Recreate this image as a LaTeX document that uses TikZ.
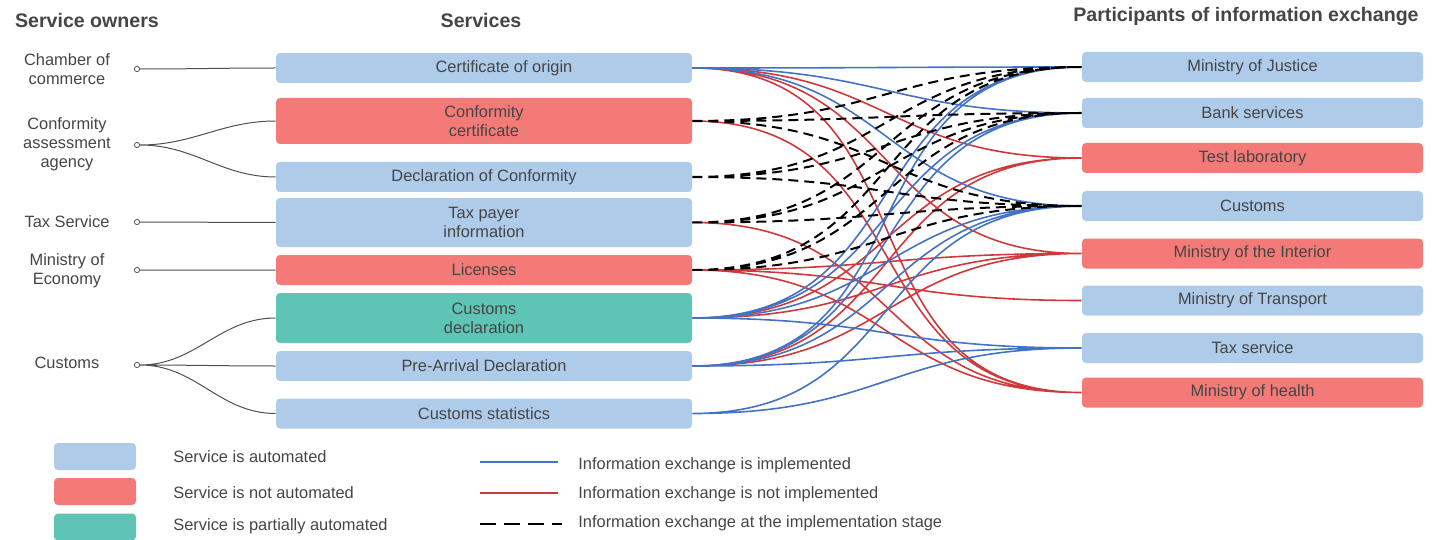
\documentclass[tikz,border=0pt]{standalone}
\usepackage{fontspec}
\setmainfont{Liberation Sans}
\definecolor{autob}{HTML}{AFCBEA}
\definecolor{nautor}{HTML}{F47A78}
\definecolor{pautot}{HTML}{5EC4B6}
\definecolor{implb}{HTML}{4472C4}
\definecolor{nimplr}{HTML}{D0393B}
\definecolor{txtg}{HTML}{454545}
\definecolor{ownerg}{HTML}{505050}

\begin{document}
\begin{tikzpicture}[
  x=0.5pt, y=-0.5pt,
  font=\fontsize{8.2}{9.5}\selectfont,
  svc/.style={fill=autob, rounded corners=2pt, minimum width=208pt,
    minimum height=15pt, align=center, text=txtg, inner sep=0pt},
  part/.style={svc, minimum width=170.5pt},
  nauto/.style={fill=nautor},
  pauto/.style={fill=pautot},
  impl/.style={draw=implb, line width=0.8pt, out=0, in=180, looseness=1.25},
  nimpl/.style={impl, draw=nimplr},
  stage/.style={impl, draw=black, line width=1pt, dash pattern=on 5pt off 3pt},
  owner/.style={draw=ownerg, line width=0.5pt, out=0, in=180},
  dot/.style={circle, draw=ownerg, fill=white, inner sep=0pt, minimum size=2.6pt},
  own/.style={align=center, text=txtg},
  head/.style={text=txtg, font=\fontsize{9.8}{12}\selectfont\bfseries},
  swatch/.style={rounded corners=2pt, minimum width=41pt, minimum height=13.5pt, inner sep=0pt},
  legtext/.style={anchor=west, text=txtg, inner sep=0pt}]
\useasboundingbox (0,0) rectangle (1436,540);

\node[head, anchor=west] (hown) at (8,20) {Service owners};
\node[head] (hsvc) at (481,20) {Services};
\node[head] (hpart) at (1246,16) {Participants of information exchange};

% owners
\node[own] (o1) at (67,69) {Chamber of\\commerce};
\node[own] (o2) at (67,144) {Conformity\\assessment\\agency};
\node[own] (o3) at (67,222) {Tax Service};
\node[own] (o4) at (67,271) {Ministry of\\Economy};
\node[own] (o5) at (67,363) {Customs};
\node[dot] (c1) at (137,69) {};
\node[dot] (c2) at (137,145) {};
\node[dot] (c3) at (137,222) {};
\node[dot] (c4) at (137,270) {};
\node[dot] (c5) at (137,365) {};

% services
\node[svc] (s1) at (484,68) {\hspace*{20pt}Certificate of origin};
\node[svc, nauto, minimum height=23pt] (s2) at (484,121) {Conformity\\certificate};
\node[svc] (s3) at (484,177) {Declaration of Conformity};
\node[svc, minimum height=24.5pt] (s4) at (484,222.5) {Tax payer\\information};
\node[svc, nauto] (s5) at (484,270) {Licenses};
\node[svc, pauto, minimum height=25pt] (s6) at (484,318) {Customs\\declaration};
\node[svc] (s7) at (484,366) {Pre-Arrival Declaration};
\node[svc] (s8) at (484,413.5) {Customs statistics};

% participants
\node[part] (p1) at (1252.5,67) {Ministry of Justice};
\node[part] (p2) at (1252.5,113) {Bank services};
\node[part, nauto] (p3) at (1252.5,158) {Test laboratory};
\node[part] (p4) at (1252.5,206) {Customs};
\node[part, nauto] (p5) at (1252.5,253.5) {Ministry of the Interior};
\node[part] (p6) at (1252.5,300.5) {Ministry of Transport};
\node[part] (p7) at (1252.5,348) {Tax service};
\node[part, nauto] (p8) at (1252.5,392.5) {Ministry of health};

\draw[owner] (c1) to (s1) (c2) to (s2) (c2) to (s3) (c3) to (s4) (c4) to (s5)
  (c5) to (s6) (c5) to (s7) (c5) to (s8);

\draw[nimpl] (s1) to (p3) (s1) to (p5) (s1) to (p8) (s2) to (p8) (s4) to (p8)
  (s5) to (p5) (s5) to (p6) (s5) to (p8) (s6) to (p3) (s6) to (p5)
  (s7) to (p3) (s7) to (p5);
\draw[impl] (s1) to (p1) (s1) to (p2) (s1) to (p4)
  (s6) to (p1) (s6) to (p2) (s6) to (p4) (s6) to (p7)
  (s7) to (p1) (s7) to (p2) (s7) to (p4) (s7) to (p7)
  (s8) to (p4) (s8) to (p7);
\draw[stage] (s2) to (p1) (s2) to (p2) (s2) to (p4)
  (s3) to (p1) (s3) to (p2) (s3) to (p4)
  (s4) to (p1) (s4) to (p2) (s4) to (p4)
  (s5) to (p1) (s5) to (p2) (s5) to (p4);

% legend
\node[swatch, fill=autob] (k1) at (95,456.5) {};
\node[swatch, fill=nautor] (k2) at (95,491.5) {};
\node[swatch, fill=pautot] (k3) at (95,527) {};
\node[legtext] (t1) at (173,457) {Service is automated};
\node[legtext] (t2) at (173,493) {Service is not automated};
\node[legtext] (t3) at (173,526) {Service is partially automated};
\node[legtext] (t4) at (578,465) {Information exchange is implemented};
\node[legtext] (t5) at (578,494) {Information exchange is not implemented};
\node[legtext] (t6) at (578,523) {Information exchange at the implementation stage};
\draw[implb, line width=0.8pt] (480,462) -- (558,462);
\draw[nimplr, line width=0.8pt] (480,493) -- (558,493);
\draw[black, line width=1pt, dash pattern=on 8pt off 4pt] (480,524) -- (562,524);
\end{tikzpicture}
\end{document}
